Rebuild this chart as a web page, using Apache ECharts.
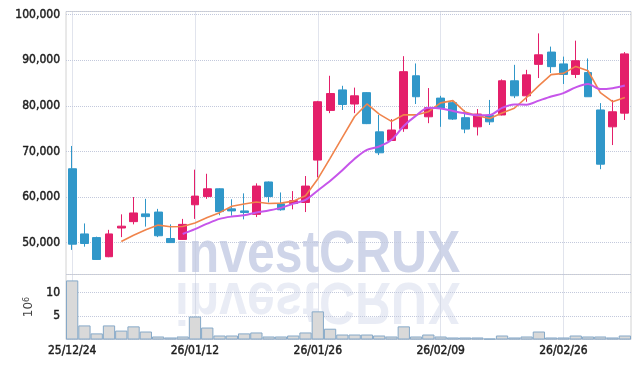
<!DOCTYPE html>
<html>
<head>
<meta charset="utf-8">
<script src="https://cdn.jsdelivr.net/npm/echarts@6/dist/echarts.min.js"></script>
<style>
html,body{margin:0;padding:0;background:#fff;}
#chart{width:639px;height:368px;}
</style>
</head>
<body>
<div id="chart"></div>
<script>
// trading days
var dates = ['25/12/24','25/12/26','25/12/29','25/12/30','26/01/02','26/01/05','26/01/06','26/01/07','26/01/08','26/01/09',
	'26/01/12','26/01/13','26/01/14','26/01/15','26/01/16','26/01/19','26/01/20','26/01/21','26/01/22','26/01/23',
	'26/01/26','26/01/27','26/01/28','26/01/29','26/01/30','26/02/02','26/02/03','26/02/04','26/02/05','26/02/06',
	'26/02/09','26/02/10','26/02/11','26/02/12','26/02/13','26/02/19','26/02/20','26/02/23','26/02/24','26/02/25',
	'26/02/26','26/02/27','26/03/03','26/03/04','26/03/05','26/03/06'];
// [open, close, low, high]
var ohlc = [
	[66200,49650,48400,71200],[51900,49800,49100,54200],[51100,46300,46200,51300],[46900,51900,46800,52800],
	[53200,53600,51200,56200],[54600,56500,54000,60000],[56300,55700,53500,59600],[56700,51500,51200,57400],
	[50900,50000,50000,54000],[50700,54000,50600,55200],[58300,60200,55200,66000],[60100,61800,59600,65100],
	[61800,56800,56000,61900],[57400,56950,55900,59500],[56950,56600,55100,60800],[56200,62400,55600,63000],
	[63300,60100,58800,63400],[58500,57200,57000,61000],[58600,59200,57300,61300],[58800,62400,56700,64600],
	[68100,80900,64300,81100],[79000,82700,78400,86600],[83500,80300,79100,84400],[80400,82200,78400,84000],
	[82900,76100,76000,83000],[74300,69700,69200,78000],[72400,74700,72300,77100],[75000,87500,74300,90900],
	[86600,82000,80400,89300],[77600,79600,76200,83900],[81700,79500,75400,82200],[80700,77100,76900,81000],
	[77400,74900,74000,79100],[75400,78200,73500,79300],[77900,76500,75800,81300],[78000,85500,77900,85800],
	[85500,82200,81700,89000],[82200,86800,80900,87900],[89100,91200,86100,95900],[91800,88600,87200,93000],
	[89200,86900,84800,90800],[86900,89900,86100,94300],[87300,82000,82000,90400],[79100,67200,66100,80600],
	[75400,78700,71400,81300],[78400,91400,76900,91800]
];
var ma5 = ['-','-','-','-',50240,51620,52800,53840,53460,53540,54290,55500,56570,57960,58470,58910,58570,58660,59100,60270,
	63960,68480,73080,77670,80410,78180,76590,78040,78010,78710,80650,81140,78620,77850,77240,78450,79470,81840,84440,86850,
	87130,88660,87700,82910,80920,81810];
var ma10 = ['-','-','-','-','-','-','-','-','-',51890,52950,54150,55200,55710,56010,56600,57040,57610,58540,59380,
	61440,63530,65870,68400,70350,71080,72540,75570,77850,79570,79430,78870,78340,77940,77980,79560,80310,80240,81150,82050,
	82800,84060,84770,83670,83880,84460];
// 10^6
var volume = [12.6,3.0,1.3,3.0,1.9,2.8,1.7,0.64,0.43,0.64,4.9,2.55,0.85,0.85,1.3,1.5,0.64,0.64,0.85,1.5,
	6.0,2.3,1.06,1.06,1.06,0.85,0.64,2.8,0.64,1.06,0.64,0.43,0.43,0.43,0.2,0.85,0.43,0.64,1.7,0.43,
	0.43,0.85,0.64,0.64,0.43,0.85];

var labelFont = {color:'#1e1e1e', fontFamily:'DejaVu Sans Condensed', fontSize:12, textBorderColor:'#1e1e1e', textBorderWidth:0.45};
var gridLine = {show:true, interval:9, alignWithLabel:true, lineStyle:{color:'#c3c9dc', type:'dotted', width:1}};
var hGridLine = {show:true, lineStyle:{color:'#c3c9dc', type:'dotted', width:1}};

var myChart = echarts.init(document.getElementById('chart'));
var option = {
	animation: false,
	backgroundColor: '#fff',
	grid: [
		{left:66, right:8, top:11.5, height:263, show:true, borderColor:'#d2d2d2', borderWidth:1},
		{left:66, right:8, top:274.5, height:65, show:true, borderColor:'#d2d2d2', borderWidth:1}
	],
	// 워터마크
	graphic: [
		{type:'text', x:175, y:276, scaleX:0.845, z:-1, silent:true,
			style:{text:'investCRUX', x:0, y:-20.6, font:'bold 59px "Liberation Sans"', fill:'#cfd5e9', verticalAlign:'middle'}},
		{type:'text', x:175, y:279, scaleX:0.845, scaleY:-1, z:-1, silent:true,
			style:{text:'investCRUX', x:0, y:-20.6, font:'bold 59px "Liberation Sans"', fill:'#cfd5e9', opacity:0.45, verticalAlign:'middle'}}
	],
	xAxis: [
		{type:'category', gridIndex:0, data:dates, boundaryGap:true,
			axisLine:{show:false}, axisTick:{show:false}, axisLabel:{show:false}, splitLine:gridLine},
		{type:'category', gridIndex:1, data:dates, boundaryGap:true,
			axisLine:{show:false}, axisTick:{show:false},
			axisLabel:echarts.util.extend({interval:9, margin:5}, labelFont), splitLine:gridLine}
	],
	yAxis: [
		{type:'value', gridIndex:0, min:43000, max:100700, splitNumber:5,
			axisLine:{show:false}, axisTick:{show:false},
			axisLabel:echarts.util.extend({margin:6, showMinLabel:false, showMaxLabel:false}, labelFont),
			splitLine:hGridLine},
		{type:'value', gridIndex:1, min:0, max:13.86, interval:5,
			name:'10{s|6}', nameLocation:'middle', nameGap:28, nameRotate:90,
			nameTextStyle:{color:'#444', fontFamily:'DejaVu Sans', fontSize:12,
				rich:{s:{color:'#444', fontFamily:'DejaVu Sans', fontSize:8, verticalAlign:'top'}}},
			axisLine:{show:false}, axisTick:{show:false},
			axisLabel:echarts.util.extend({margin:6, showMinLabel:false, showMaxLabel:false}, labelFont),
			splitLine:hGridLine}
	],
	series: [
		{
			type:'candlestick', xAxisIndex:0, yAxisIndex:0, data:ohlc, barWidth:'68%', z:3,
			itemStyle:{color:'#e41f6a', color0:'#3097c9', borderColor:'#e41f6a', borderColor0:'#3097c9', borderWidth:1}
		},
		{
			type:'line', name:'MA5', xAxisIndex:0, yAxisIndex:0, data:ma5, showSymbol:false, z:4,
			lineStyle:{color:'#f0844c', width:1.6}
		},
		{
			type:'line', name:'MA10', xAxisIndex:0, yAxisIndex:0, data:ma10, showSymbol:false, smooth:0.3, z:4,
			lineStyle:{color:'#c655ea', width:2}
		},
		{
			type:'bar', xAxisIndex:1, yAxisIndex:1, data:volume, barWidth:'100%',
			itemStyle:{color:'#d9d9d9', borderColor:'#86a9c8', borderWidth:1}
		}
	]
};
myChart.setOption(option);
</script>
</body>
</html>
